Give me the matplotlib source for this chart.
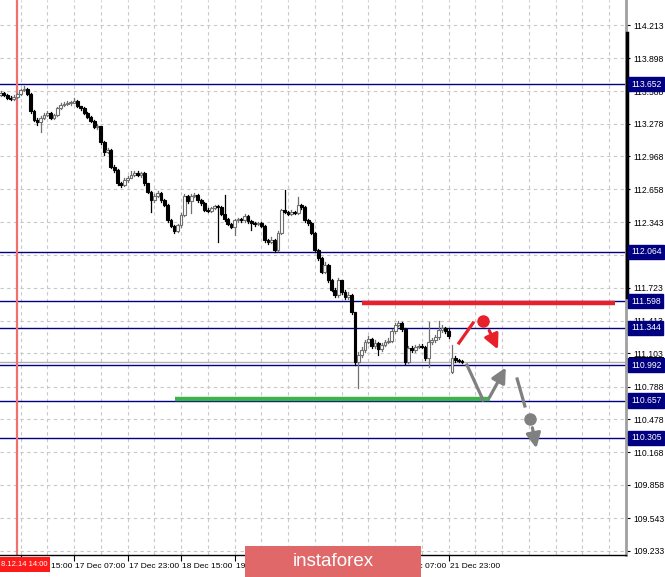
import numpy as np
import matplotlib
matplotlib.use("Agg")
import matplotlib.pyplot as plt
from matplotlib.patches import Rectangle
import matplotlib.transforms as mtransforms

plt.rcParams['font.family'] = ['Liberation Sans', 'DejaVu Sans']

# hourly candles, index 0 = first visible bar
closes = [113.569, 113.550, 113.522, 113.512, 113.531, 113.560, 113.598, 113.607, 113.560, 113.399,
          113.314, 113.295, 113.333, 113.361, 113.380, 113.333, 113.361, 113.427, 113.456, 113.465,
          113.475, 113.475, 113.493, 113.446, 113.427, 113.380, 113.342, 113.304, 113.247, 113.257,
          113.105, 113.011, 113.030, 112.869, 112.840, 112.717, 112.698, 112.745, 112.764, 112.793,
          112.812, 112.793, 112.812, 112.717, 112.632, 112.556, 112.594, 112.622, 112.556, 112.509,
          112.367, 112.310, 112.262, 112.319, 112.414, 112.594, 112.547, 112.594, 112.603, 112.556,
          112.528, 112.461, 112.452, 112.480, 112.499, 112.490, 112.423, 112.376, 112.329, 112.300,
          112.367, 112.376, 112.367, 112.404, 112.357, 112.338, 112.329, 112.338, 112.310, 112.177,
          112.158, 112.177, 112.083, 112.244, 112.461, 112.442, 112.423, 112.442, 112.433, 112.509,
          112.490, 112.367, 112.338, 112.244, 112.083, 112.007, 111.874, 111.941, 111.799, 111.704,
          111.656, 111.798, 111.685, 111.637, 111.656, 111.495, 111.022, 111.088, 111.136, 111.211,
          111.240, 111.173, 111.202, 111.145, 111.183, 111.211, 111.221, 111.315, 111.372, 111.391,
          111.334, 111.022, 111.154, 111.136, 111.164, 111.173, 111.164, 111.060, 111.211, 111.230,
          111.259, 111.325, 111.344, 111.315, 111.268, 111.060, 111.041, 111.031, 111.022]
highs = [113.59, 113.58, 113.56, 113.54, 113.55, 113.57, 113.61, 113.636, 113.62, 113.57,
         113.41, 113.33, 113.35, 113.38, 113.40, 113.39, 113.37, 113.44, 113.47, 113.48,
         113.49, 113.49, 113.52, 113.50, 113.45, 113.44, 113.39, 113.35, 113.31, 113.28,
         113.26, 113.11, 113.05, 113.04, 112.89, 112.85, 112.73, 112.76, 112.78, 112.83,
         112.83, 112.83, 112.82, 112.82, 112.72, 112.64, 112.61, 112.64, 112.63, 112.57,
         112.52, 112.38, 112.32, 112.33, 112.43, 112.61, 112.60, 112.61, 112.62, 112.61,
         112.57, 112.54, 112.48, 112.49, 112.51, 112.51, 112.50, 112.603, 112.39, 112.34,
         112.38, 112.39, 112.39, 112.42, 112.41, 112.37, 112.35, 112.35, 112.35, 112.32,
         112.19, 112.21, 112.19, 112.26, 112.47, 112.65, 112.45, 112.46, 112.45, 112.584,
         112.52, 112.50, 112.38, 112.35, 112.25, 112.09, 112.02, 111.97, 111.95, 111.81,
         111.72, 111.82, 111.80, 111.70, 111.68, 111.67, 111.50, 111.12, 111.16, 111.23,
         111.27, 111.25, 111.23, 111.21, 111.20, 111.23, 111.25, 111.33, 111.39, 111.41,
         111.40, 111.34, 111.17, 111.17, 111.18, 111.19, 111.19, 111.17, 111.40, 111.25,
         111.28, 111.41, 111.37, 111.35, 111.33, 111.18, 111.08, 111.05, 111.04]
lows = [113.54, 113.54, 113.51, 113.50, 113.50, 113.52, 113.55, 113.59, 113.55, 113.38,
        113.30, 113.27, 113.20, 113.32, 113.35, 113.32, 113.32, 113.35, 113.42, 113.45,
        113.46, 113.46, 113.47, 113.44, 113.41, 113.37, 113.33, 113.29, 113.24, 113.23,
        113.09, 112.98, 113.00, 112.86, 112.82, 112.70, 112.68, 112.69, 112.73, 112.76,
        112.78, 112.78, 112.77, 112.70, 112.62, 112.44, 112.54, 112.58, 112.54, 112.50,
        112.35, 112.30, 112.24, 112.25, 112.30, 112.40, 112.53, 112.43, 112.58, 112.54,
        112.51, 112.45, 112.44, 112.44, 112.47, 112.158, 112.41, 112.36, 112.32, 112.29,
        112.225, 112.35, 112.35, 112.35, 112.34, 112.27, 112.31, 112.32, 112.30, 112.16,
        112.14, 112.15, 112.06, 112.07, 112.23, 112.43, 112.41, 112.41, 112.42, 112.42,
        112.47, 112.35, 112.32, 112.23, 112.07, 111.99, 111.86, 111.86, 111.78, 111.69,
        111.64, 111.64, 111.67, 111.62, 111.62, 111.48, 110.99, 110.776, 111.07, 111.12,
        111.20, 111.15, 111.15, 111.09, 111.13, 111.17, 111.20, 111.21, 111.30, 111.36,
        111.32, 111.00, 111.01, 111.12, 111.12, 111.15, 111.15, 111.04, 110.97, 111.19,
        111.21, 111.24, 111.31, 111.30, 111.25, 110.92, 111.02, 111.02, 111.01]
# opens: previous close, except the first bar and the new-week gap bar
opens = [113.550] + closes[:-1]
opens[135] = 110.930

price_ticks = [114.213, 113.898, 113.588, 113.278, 112.968, 112.658, 112.343, 112.033, 111.723,
               111.413, 111.103, 110.788, 110.478, 110.168, 109.858, 109.543, 109.233]
level_lines = [113.652, 112.064, 111.598, 111.344, 110.992, 110.657, 110.305]
bid_price = 111.02

time_pos = [6, 22, 38, 54, 70, 86, 102, 118, 134]
time_labels = ["16 Dec 15:00", "17 Dec 07:00", "17 Dec 23:00", "18 Dec 15:00", "19 Dec 07:00",
               "19 Dec 23:00", "20 Dec 15:00", "21 Dec 07:00", "21 Dec 23:00"]

# forecast drawings (bar index, price)
resist_x, resist_y = [108.1, 183.8], 111.585
support_x, support_y = [52.2, 146.4], 110.672
red_path = [(137.1, 111.202), (141.3, 111.391)]
red_dot = (144.3, 111.410)
red_arrow = [(145.8, 111.344), (149.1, 111.117)]
grey_path = [(139.5, 110.993), (144.3, 110.662)]
grey_arrow1 = [(145.8, 110.662), (151.5, 110.993)]
grey_path2 = [(154.5, 110.861), (156.8, 110.605)]
grey_dot = (158.3, 110.482)
grey_arrow2 = [(158.9, 110.425), (160.4, 110.179)]

W, H = 665, 577
fig = plt.figure(figsize=(W / 100, H / 100), dpi=100)
ax = fig.add_axes([0, 22 / H, 626 / W, 555 / H])
ax.set_xlim(-0.15, 187.05)
ax.set_ylim(109.194, 114.450)

# grid
for p in price_ticks:
    ax.axhline(p, color='#c8c8c8', lw=0.8, ls=(0, (3, 3)), zorder=0)
for g in np.arange(6, 187, 8):
    ax.axvline(g, color='#c8c8c8', lw=0.8, ls=(0, (3, 3)), zorder=0)

# levels
for lv in level_lines:
    ax.axhline(lv, color='#000080', lw=1.0, zorder=1)
ax.axhline(bid_price, color='#b0b0b0', lw=1.0, zorder=1)
ax.axvline(4.9, color='#f07070', lw=1.6, zorder=1)

# candles
idx = np.arange(len(closes))
o = np.array(opens)
c = np.array(closes)
up = c >= o
for i in idx:
    col = '#707070' if up[i] else 'black'
    ax.plot([i, i], [lows[i], highs[i]], color=col, lw=0.9, zorder=3)
    bot = min(o[i], c[i])
    hgt = max(abs(c[i] - o[i]), 0.005)
    ax.add_patch(Rectangle((i - 0.42, bot), 0.84, hgt,
                           facecolor='white' if up[i] else 'black',
                           edgecolor=col, lw=0.8, zorder=4))

# drawings
ax.plot(resist_x, [resist_y] * 2, color='#e8202a', lw=3.2, zorder=5, solid_capstyle='butt')
ax.plot(support_x, [support_y] * 2, color='#3cb44b', lw=3.2, zorder=5, solid_capstyle='butt')
ax.plot(*zip(*red_path), color='#e8202a', lw=2.3, zorder=6)
ax.plot(*red_dot, 'o', color='#e8202a', ms=8, zorder=6)
ax.annotate('', xy=red_arrow[1], xytext=red_arrow[0],
            arrowprops=dict(arrowstyle='-|>', color='#e8202a', lw=2.3, mutation_scale=22), zorder=6)
ax.plot(*zip(*grey_path), color='#808080', lw=2.3, zorder=6)
ax.annotate('', xy=grey_arrow1[1], xytext=grey_arrow1[0],
            arrowprops=dict(arrowstyle='-|>', color='#808080', lw=2.3, mutation_scale=22), zorder=6)
ax.plot(*zip(*grey_path2), color='#808080', lw=2.3, zorder=6)
ax.plot(*grey_dot, 'o', color='#808080', ms=8, zorder=6)
ax.annotate('', xy=grey_arrow2[1], xytext=grey_arrow2[0],
            arrowprops=dict(arrowstyle='-|>', color='#808080', lw=2.3, mutation_scale=22), zorder=6)

# axes styling
for s in ['top', 'left']:
    ax.spines[s].set_visible(False)
ax.spines['bottom'].set_color('black')
ax.spines['bottom'].set_linewidth(1.0)
ax.spines['right'].set_color('#a0a0a0')
ax.spines['right'].set_linewidth(2.0)
ax.yaxis.tick_right()
ax.set_yticks(price_ticks)
ax.set_yticklabels(['%.3f' % p for p in price_ticks])
ax.tick_params(axis='y', length=3, width=0.8, pad=2, labelsize=6.2, colors='black')
ax.set_xticks(time_pos)
ax.set_xticklabels(time_labels)
ax.tick_params(axis='x', length=4, width=0.8, pad=2, labelsize=6.0)
offset = mtransforms.ScaledTranslation(1 / 100, 0, fig.dpi_scale_trans)
for lab in ax.get_xticklabels():
    lab.set_ha('left')
    lab.set_transform(lab.get_transform() + offset)

# thick black segment on price scale
ax.plot([1.002, 1.002], [111.64, 114.14], transform=ax.get_yaxis_transform(),
        color='black', lw=2.5, clip_on=False, zorder=7)

# price labels on the scale
trans = ax.get_yaxis_transform()
ax.add_patch(Rectangle((1.004, bid_price), 0.056, 0.045, transform=trans, facecolor='black',
                       edgecolor='none', clip_on=False, zorder=7))
for lv in level_lines:
    ax.text(1.008, lv, '%.3f' % lv, transform=trans, fontsize=6.2, color='white',
            va='center', ha='left', clip_on=False, zorder=8,
            bbox=dict(boxstyle='square,pad=0.3', fc='#000080', ec='#000080'))

# red crosshair time label
fig.patches.append(Rectangle((0, (H - 572) / H), 50 / W, 15 / H, transform=fig.transFigure,
                             facecolor='#ff1a1a', edgecolor='none', zorder=9))
fig.text(1 / W, (H - 565) / H, '8.12.14 14:00', color='white', fontsize=5.5, va='center',
         ha='left', zorder=10)

# watermark
fig.patches.append(Rectangle((245 / W, 0), 176 / W, 31 / H, transform=fig.transFigure,
                             facecolor='#e06868', edgecolor='none', zorder=9))
fig.text(333 / W, 15 / H, 'instaforex', color='white', fontsize=13.5, va='center', ha='center',
         zorder=10)

plt.savefig('out.png', dpi=100)
